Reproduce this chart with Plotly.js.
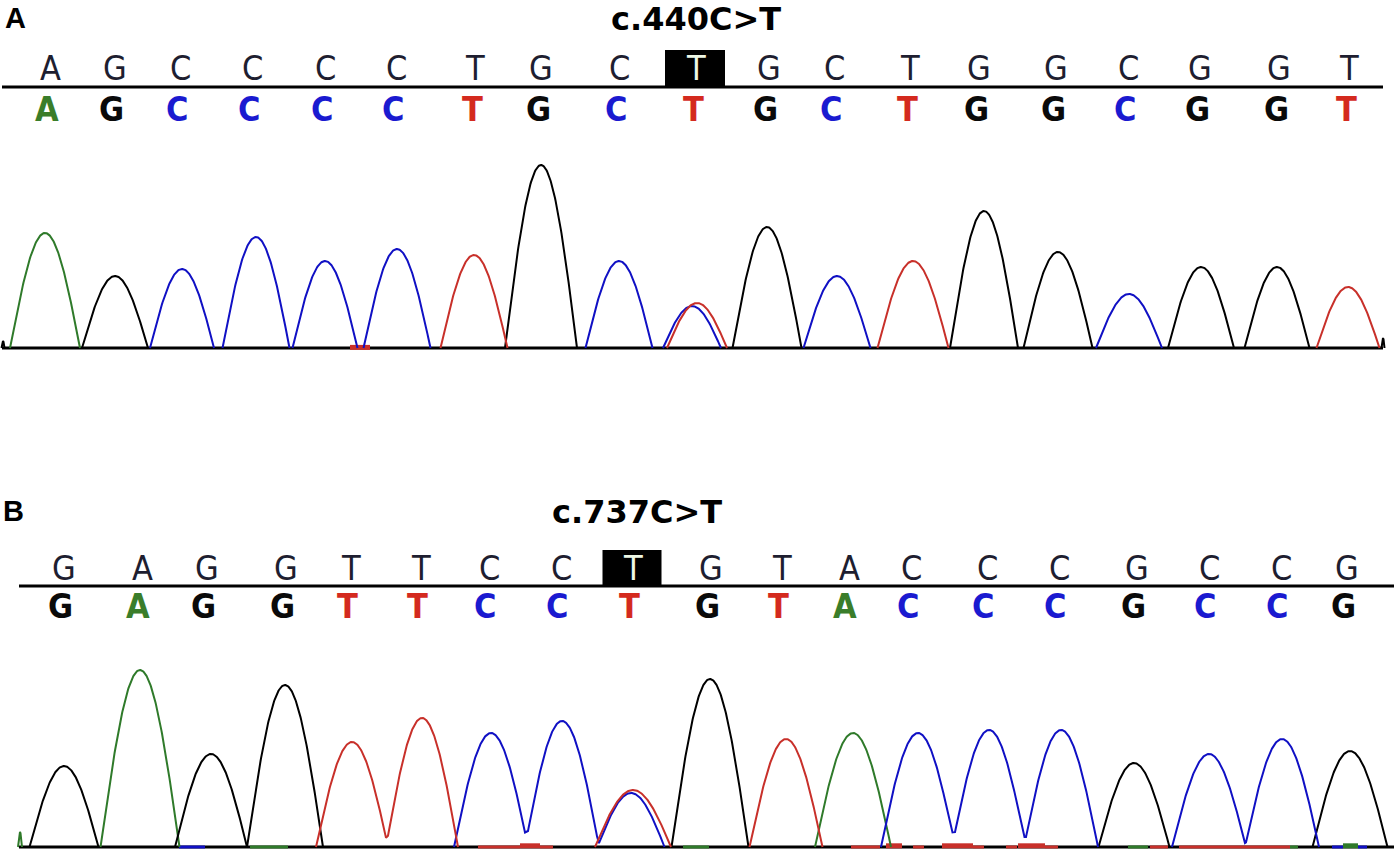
<!DOCTYPE html>
<html><head><meta charset="utf-8">
<script src="https://cdn.plot.ly/plotly-3.0.1.min.js"></script>
<style>html,body{margin:0;padding:0;background:#fff}#chart{width:1394px;height:850px}</style>
</head><body><div id="chart"></div>
<script>
// ---------------- DATA ----------------
const panelLabels = ['A', 'B'];
const titles = ['c.440C>T', 'c.737C>T'];

// Panel A: base calls (reference row and called row are identical)
const seqA = ['A','G','C','C','C','C','T','G','C','T','G','C','T','G','G','C','G','G','T'];
const callPosA = [47,112,177,249,322,393,472,538,616,693,766,831,907,976,1053,1125,1197,1276,1346];
const variantIndexA = 9;
// Panel A: peaks (trace position, height, half-width, channel)
const peakBaseA   = ['G','A','G','C','C','C','C','T','G','C','T','C','G','C','T','G','G','C','G','G','T','G'];
const peakPosA    = [3,45,115,182,256,325,397,474,541,619,697,692,767,837,913,984,1058,1129,1201,1277,1348,1383];
const peakHeightA = [7,115,72,79,111,87,99,93,183,87,45,42,121,72,87,137,96,54,81,81,61,10];
const peakWidthA  = [1.5,35,33,32,33.5,32.5,33.5,33.5,36,33.5,30,29,34.5,33.5,35.5,34,34.5,33,33,32.5,31.5,1.5];
// Panel A: low-level baseline signal
const noiseBaseA  = ['T'];
const noiseStartA = [350];
const noiseEndA   = [370];
const noiseLevelA = [1];

// Panel B
const seqB = ['G','A','G','G','T','T','C','C','T','G','T','A','C','C','C','G','C','C','G'];
const callPosB = [60,138,203,282,347,417,485,557,629,707,778,845,908,983,1055,1133,1205,1277,1343];
const variantIndexB = 8;
const peakBaseB   = ['A','G','A','G','G','T','T','C','C','T','C','G','T','A','C','C','C','G','C','C','G'];
const peakPosB    = [20,64,140,211,285,352,422,491,562,633,631,710,786,853,918,989,1061,1134,1209,1282,1350];
const peakHeightB = [15,81,177,93,162,105,129,114,126,57,54,168,108,114,114,117,117,84,93,108,96];
const peakWidthB  = [2,34.5,39.5,36,38,36,36,37,37,38,33.5,38.5,36.5,38,37,37,37,35.5,37,37,37.5];
const noiseBaseB  = ['C','A','T','T','T','A','T','T','T','T','T','T','T','T','A','T','T','A','C','A','C'];
const noiseStartB = [179,250,478,520,540,683,851,886,913,942,973,1006,1018,1045,1128,1150,1179,1290,1332,1343,1358];
const noiseEndB   = [205,288,520,540,553,709,880,902,924,973,984,1017,1045,1058,1148,1168,1290,1298,1343,1358,1367];
const noiseLevelB = [0,0,0,2,0,0,0,2,0,2,0,0,2,0,0,0,0,0,0,2,0];

const channels = ['A','G','C','T'];

// ---------------- STYLE ----------------
const W = 1394, H = 850;
const traceColor = {A:'#2f7a2a', C:'#1010c4', G:'#000000', T:'#c8302a'};
const callColor  = {A:'#3a7d2a', C:'#1a1ad0', G:'#0a0a0a', T:'#d42a1e'};
const py = p => 1 - p / H;
const baseFont = 'Liberation Sans Narrow, DejaVu Sans Condensed, Liberation Sans, sans-serif';

const panels = [
  {label: panelLabels[0], title: titles[0], seq: seqA, callPos: callPosA, variant: variantIndexA,
   pb: peakBaseA, pp: peakPosA, ph: peakHeightA, pw: peakWidthA,
   nb: noiseBaseA, ns: noiseStartA, ne: noiseEndA, nl: noiseLevelA,
   yaxis: 'y', yref: 'y', base: 348, ymin: -20, ymax: 200, x0: 2, x1: 1383, lineY: 87, lineX0: 2, lineX1: 1383,
   labelX: 15, labelY: 17.5, titleX: 696, titleY: 19, topY: 68.5, botY: 108.5, boxTop: 50, boxW: 60, topOff: 3},
  {label: panelLabels[1], title: titles[1], seq: seqB, callPos: callPosB, variant: variantIndexB,
   pb: peakBaseB, pp: peakPosB, ph: peakHeightB, pw: peakWidthB,
   nb: noiseBaseB, ns: noiseStartB, ne: noiseEndB, nl: noiseLevelB,
   yaxis: 'y2', yref: 'y2', base: 847, ymin: -3, ymax: 200, x0: 19, x1: 1394, lineY: 586, lineX0: 19, lineX1: 1394,
   labelX: 14, labelY: 511, titleX: 637, titleY: 512, topY: 567.5, botY: 605.5, boxTop: 550, boxW: 59, topOff: 4}
];

function channelCurve(P, ch) {
  const xs = [], ys = [];
  let prev = false;
  const step = 0.5;
  for (let x = 0; x <= W; x += step) {
    let v = 0;
    for (let i = 0; i < P.pp.length; i++) {
      if (P.pb[i] !== ch) continue;
      const d = Math.abs(x - P.pp[i]);
      if (d < P.pw[i]) v += P.ph[i] * Math.cos(Math.PI / 2 * d / P.pw[i]);
    }
    if (v > 0) {
      if (!prev) { xs.push(x - step); ys.push(0); }
      xs.push(x); ys.push(v); prev = true;
    } else {
      if (prev) { xs.push(x); ys.push(0); xs.push(null); ys.push(null); }
      prev = false;
    }
  }
  return {xs, ys};
}

const traces = [], shapes = [], annotations = [];

panels.forEach(P => {
  // baseline
  shapes.push({type: 'line', xref: 'x', yref: P.yref, x0: P.x0, x1: P.x1, y0: 0, y1: 0,
               line: {color: '#000', width: 3}, layer: 'below'});
  // noise on baseline
  channels.forEach(ch => {
    const xs = [], ys = [];
    const xs2 = [], ys2 = [];
    for (let i = 0; i < P.nb.length; i++) {
      if (P.nb[i] !== ch) continue;
      if (P.nl[i] > 0) { xs2.push(P.ns[i], P.ne[i], null); ys2.push(P.nl[i] * 0.6, P.nl[i] * 0.6, null); }
      else { xs.push(P.ns[i], P.ne[i], null); ys.push(P.nl[i], P.nl[i], null); }
    }
    if (xs.length) traces.push({x: xs, y: ys, yaxis: P.yaxis, mode: 'lines', hoverinfo: 'skip',
      line: {color: traceColor[ch], width: 3}, showlegend: false});
    if (xs2.length) traces.push({x: xs2, y: ys2, yaxis: P.yaxis, mode: 'lines', hoverinfo: 'skip',
      line: {color: traceColor[ch], width: 5}, showlegend: false});
  });
  // chromatogram channels
  channels.forEach(ch => {
    const c = channelCurve(P, ch);
    if (!c.xs.length) return;
    traces.push({x: c.xs, y: c.ys, yaxis: P.yaxis, mode: 'lines', hoverinfo: 'skip',
      line: {color: traceColor[ch], width: 2}, showlegend: false, connectgaps: false});
  });
  // line under reference row
  shapes.push({type: 'line', xref: 'paper', yref: 'paper', x0: P.lineX0 / W, x1: P.lineX1 / W,
               y0: py(P.lineY), y1: py(P.lineY), line: {color: '#000', width: 3}});
  // highlight box
  const vx = P.callPos[P.variant] + P.topOff;
  shapes.push({type: 'rect', xref: 'x', yref: 'paper', x0: vx - P.boxW / 2 - 1, x1: vx + P.boxW / 2 - 1,
               y0: py(P.lineY), y1: py(P.boxTop), fillcolor: '#000', line: {width: 0}, layer: 'below'});
  // panel label and title
  annotations.push({text: '<b>' + P.label + '</b>', x: P.labelX / W, y: py(P.labelY), xref: 'paper', yref: 'paper',
    showarrow: false, xanchor: 'center', yanchor: 'middle',
    font: {family: 'Liberation Sans, Arial, sans-serif', size: 29, color: '#000'}});
  annotations.push({text: '<b>' + P.title.replace('>', '&gt;') + '</b>', x: P.titleX / W, y: py(P.titleY),
    xref: 'paper', yref: 'paper', showarrow: false, xanchor: 'center', yanchor: 'middle',
    font: {family: 'DejaVu Sans, sans-serif', size: 32, color: '#000'}});
  // base rows
  P.seq.forEach((b, i) => {
    const isVar = i === P.variant;
    annotations.push({text: b, x: (P.callPos[i] + P.topOff) / W, y: py(P.topY), xref: 'paper', yref: 'paper',
      showarrow: false, xanchor: 'center', yanchor: 'middle',
      font: {family: baseFont, size: 34, color: isVar ? '#eef8e6' : '#1e1e30'}});
    annotations.push({text: '<b>' + b + '</b>', x: P.callPos[i] / W, y: py(P.botY), xref: 'paper', yref: 'paper',
      showarrow: false, xanchor: 'center', yanchor: 'middle',
      font: {family: baseFont, size: 34, color: callColor[b]}});
  });
});

const layout = {
  width: W, height: H, margin: {l: 0, r: 0, t: 0, b: 0},
  paper_bgcolor: '#fff', plot_bgcolor: 'rgba(0,0,0,0)', showlegend: false,
  xaxis: {range: [0, W], domain: [0, 1], visible: false, fixedrange: true},
  yaxis: {range: [panels[0].ymin, panels[0].ymax], domain: [py(panels[0].base - panels[0].ymin), py(panels[0].base - panels[0].ymax)],
          visible: false, fixedrange: true},
  yaxis2: {range: [panels[1].ymin, panels[1].ymax], domain: [Math.max(0, py(panels[1].base - panels[1].ymin)), py(panels[1].base - panels[1].ymax)],
           visible: false, fixedrange: true, anchor: 'x'},
  shapes: shapes, annotations: annotations
};

Plotly.newPlot('chart', traces, layout, {displayModeBar: false, staticPlot: true});
</script>
</body></html>
